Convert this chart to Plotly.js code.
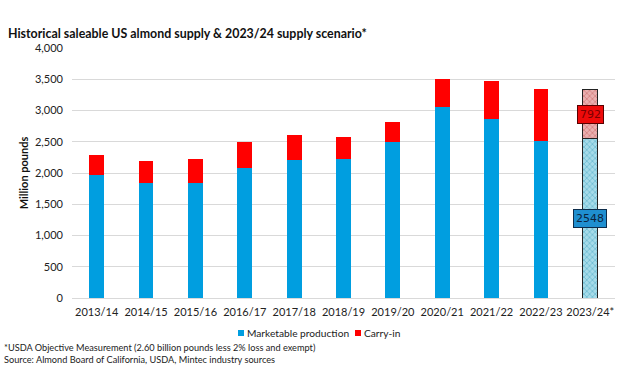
<!DOCTYPE html>
<html>
<head>
<meta charset="utf-8">
<script src="https://cdn.plot.ly/plotly-3.0.1.min.js"></script>
<style>html,body{margin:0;padding:0;background:#fff;}#chart{width:626px;height:391px;}</style>
</head>
<body>
<div id="chart"></div>
<script>
var seasons = ['2013/14','2014/15','2015/16','2016/17','2017/18','2018/19','2019/20','2020/21','2021/22','2022/23'];
var marketable = [1963, 1835, 1846, 2081, 2209, 2228, 2502, 3050, 2858, 2518];
var carryIn = [320, 358, 379, 416, 399, 351, 314, 454, 608, 826];
var scenarioSeason = ['2023/24*'];
var scenarioMarketable = [2548];
var scenarioCarryIn = [792];
var yTicks = [0, 500, 1000, 1500, 2000, 2500, 3000, 3500, 4000];
var legendNames = ['Marketable production', 'Carry-in'];

var font = 'Lato, "Noto Sans", sans-serif';
var blue = '#009ee0', red = '#ff0000';

var traces = [
  {type:'bar', name:legendNames[0], x:seasons, y:marketable, width:0.3,
   marker:{color:blue}, hoverinfo:'skip', showlegend:false},
  {type:'bar', name:legendNames[1], x:seasons, y:carryIn, width:0.3,
   marker:{color:red}, hoverinfo:'skip', showlegend:false},
  {type:'bar', name:'Scenario marketable', x:scenarioSeason, y:scenarioMarketable, width:0.3, showlegend:false,
   marker:{color:'#9fd6e6', line:{color:'#222', width:1},
     pattern:{shape:'x', bgcolor:'#a6dbe9', fgcolor:'#5fb3cc', size:4, solidity:0.3}}, hoverinfo:'skip'},
  {type:'bar', name:'Scenario carry-in', x:scenarioSeason, y:scenarioCarryIn, width:0.3, showlegend:false,
   marker:{color:'#e8a0a0', line:{color:'#222', width:1},
     pattern:{shape:'x', bgcolor:'#eab0b0', fgcolor:'#d07474', size:4, solidity:0.3}}, hoverinfo:'skip'}
];

function px(x){ return (x-72)/543; }
function py(y){ return (298-y)/250; }

var annotations = [
  {x:scenarioSeason[0], y:scenarioMarketable[0]/2, text:String(scenarioMarketable[0]), showarrow:false,
   bgcolor:'#1f8fd0', bordercolor:'#0d2c4a', borderwidth:1, borderpad:2,
   font:{family:'"DejaVu Sans", sans-serif', size:11, color:'#0b2440'}},
  {x:scenarioSeason[0], y:scenarioMarketable[0] + scenarioCarryIn[0]/2, text:String(scenarioCarryIn[0]), showarrow:false,
   bgcolor:'#ee0a0a', bordercolor:'#5a0000', borderwidth:1, borderpad:2,
   font:{family:'"DejaVu Sans", sans-serif', size:11, color:'#7a0000'}},
  {xref:'paper', yref:'paper', x:px(245), y:py(333), xanchor:'left', yanchor:'middle', showarrow:false,
   text:legendNames[0], font:{family:font, size:10.2, color:'#222'}},
  {xref:'paper', yref:'paper', x:px(362), y:py(333), xanchor:'left', yanchor:'middle', showarrow:false,
   text:legendNames[1], font:{family:font, size:10.2, color:'#222'}},
  {xref:'paper', yref:'paper', x:px(2), y:py(347.5), xanchor:'left', yanchor:'middle', showarrow:false,
   text:'*USDA Objective Measurement (2.60 billion pounds less 2% loss and exempt)',
   font:{family:font, size:9.2, color:'#222'}},
  {xref:'paper', yref:'paper', x:px(2), y:py(359.5), xanchor:'left', yanchor:'middle', showarrow:false,
   text:'Source: Almond Board of California, USDA, Mintec industry sources',
   font:{family:font, size:9.2, color:'#222'}}
];

var shapes = [
  {type:'rect', xref:'paper', yref:'paper', x0:px(238), x1:px(244), y0:py(336), y1:py(330), fillcolor:blue, line:{width:0}},
  {type:'rect', xref:'paper', yref:'paper', x0:px(355), x1:px(361), y0:py(336), y1:py(330), fillcolor:red, line:{width:0}}
];

var layout = {
  width:626, height:391,
  margin:{l:72, r:11, t:48, b:93},
  paper_bgcolor:'#fff', plot_bgcolor:'#fff',
  barmode:'stack',
  font:{family:font, size:11, color:'#222'},
  title:{text:'<b>Historical saleable US almond supply &amp; 2023/24 supply scenario*</b>',
    xref:'container', yref:'container', x:8/626, xanchor:'left', y:1-34/391, yanchor:'middle',
    font:{family:font, size:12.4, color:'#111'}},
  xaxis:{type:'category', categoryorder:'array', categoryarray:seasons.concat(scenarioSeason),
    showgrid:false, showline:false, ticks:'', ticklabelstandoff:6, tickfont:{size:11, color:'#222'}, fixedrange:true},
  yaxis:{range:[0,4000], tickvals:yTicks, tickformat:',d', showgrid:true, gridcolor:'#d9d9d9', gridwidth:1,
    zeroline:true, zerolinecolor:'#d9d9d9', zerolinewidth:1, showline:false, ticks:'', ticklen:0,
    ticklabelstandoff:8, tickfont:{size:11, color:'#222'},
    title:{text:'<b>Million pounds</b>', standoff:4, font:{size:11, color:'#111'}}},
  annotations:annotations,
  shapes:shapes,
  showlegend:false
};

Plotly.newPlot('chart', traces, layout, {displayModeBar:false, staticPlot:true});
</script>
</body>
</html>
